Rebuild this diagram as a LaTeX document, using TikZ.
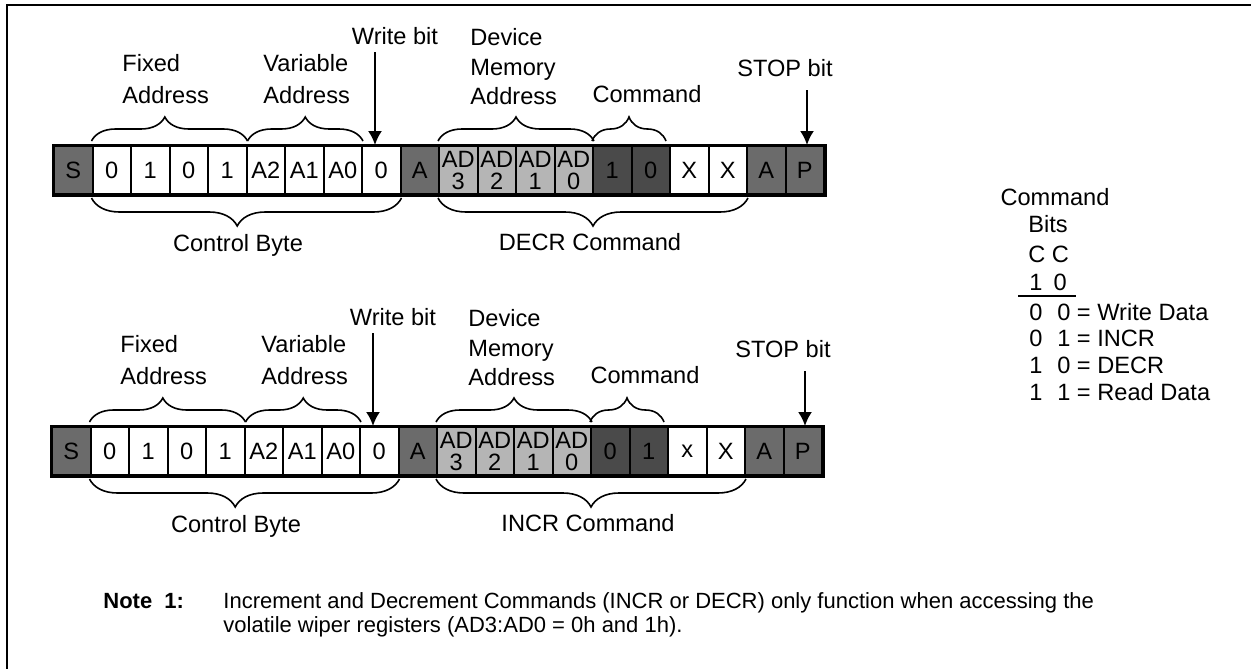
\documentclass[tikz,border=0pt]{standalone}
\usepackage{fontspec}
\setmainfont{Liberation Sans}
\usetikzlibrary{arrows.meta,decorations.pathreplacing,positioning}

\definecolor{framegray}{gray}{0.42}
\definecolor{addrgray}{gray}{0.71}
\definecolor{cmdgray}{gray}{0.29}

\begin{document}
\begin{tikzpicture}[>={Latex[length=7pt,width=7pt]}, x=0.5pt, y=-0.5pt,
        every node/.style={font=\fontsize{11.8}{14}\selectfont, inner sep=0pt},
        bitcell/.style={draw=black, line width=1pt, minimum width=19.25pt,
            minimum height=24pt, align=center, font=\fontsize{11.8}{11}\selectfont},
        overbrace/.style={decorate, decoration={brace, amplitude=12pt, raise=2pt}, line width=0.8pt},
        underbrace/.style={decorate, decoration={brace, mirror, amplitude=14pt, raise=1.5pt}, line width=0.8pt},
        pointer/.style={->, line width=1pt},
        fieldlabel/.style={anchor=west, align=left}]

    % Fixes the page size
    \useasboundingbox (0,0) rectangle (1251,669);

    % Draws the frame (top and left edges only)
    \draw[line width=1.25pt] (1251,5) -- (7,5) -- (7,669);

    % For each of the two command sequences
    \foreach \r/\dx/\dy/\ca/\cb/\xa/\cmd in {a/0/0/1/0/X/DECR, b/-2/281/0/1/x/INCR} {
        \begin{scope}[shift={(\dx,\dy)}]

            % Draws the bit cells of the sequence
            \foreach \lbl/\fl [count=\i] in {S/framegray, 0/white, 1/white, 0/white, 1/white,
                    A2/white, A1/white, A0/white, 0/white, A/framegray,
                    {AD\\3}/addrgray, {AD\\2}/addrgray, {AD\\1}/addrgray, {AD\\0}/addrgray,
                    \ca/cmdgray, \cb/cmdgray, \xa/white, X/white, A/framegray, P/framegray} {
                \node[bitcell, fill=\fl] (\r\i) at ({54+38.5*(\i-0.5)},170) {\lbl};
            }

            % Draws the thicker outline round the whole sequence
            \draw[line width=1.5pt] (\r1.north west) rectangle (\r20.south east);

            % Draws the braces above the cells and their labels
            \draw[overbrace, decoration={aspect=0.47}] (\r2.north west) -- (\r5.north east);
            \node[fieldlabel, font=\fontsize{11.8}{16}\selectfont] (fixed\r) at (122,79) {Fixed\\Address};
            \draw[overbrace] ([xshift=1pt]\r6.north west) -- (\r8.north east);
            \node[fieldlabel, font=\fontsize{11.8}{16}\selectfont] (variable\r) at (263,79) {Variable\\Address};
            \draw[overbrace] (\r11.north west) -- (\r14.north east);
            \node[fieldlabel, font=\fontsize{11.8}{14.75}\selectfont] (device\r) at (470,67) {Device\\Memory\\Address};
            \draw[overbrace] (\r15.north west) -- ([xshift=-2.5pt]\r16.north east);
            \node (command\r) at (647,94) {Command};

            % Draws the pointers to the write bit and the stop bit
            \node (write\r) at (395,36) {Write bit};
            \coordinate (writetop\r) at (375,52);
            \draw[pointer] (writetop\r) -- (writetop\r |- \r9.north);
            \node (stop\r) at (785,68) {STOP bit};
            \coordinate (stoptop\r) at (807,90);
            \draw[pointer] (stoptop\r) -- (stoptop\r |- \r20.north);

            % Draws the braces below the cells and their labels
            \draw[underbrace, decoration={aspect=0.47}] (\r2.south west) -- (\r9.south east);
            \node (control\r) at (238,245) {Control Byte};
            \draw[underbrace] (\r11.south west) -- (\r18.south east);
            \node (total\r) at (590,242) {\cmd\ Command};

        \end{scope}
    }

    % Draws the table of command bits
    \node (bitshead) at (1055,197) {Command};
    \node[anchor=west] (bitsname) at (1028,224) {Bits};
    \node[anchor=west] (bitsc) at (1028,254) {C C};
    \node[anchor=west] (bitsnum) at (1029,282) {1\hspace{5.5pt}0};
    \draw[line width=1pt] (1018,296) -- (1076,296);
    \foreach \bits/\cmdname [count=\k] in {{0\hspace{7.4pt}0}/Write Data, {0\hspace{7.4pt}1}/INCR,
            {1\hspace{7.4pt}0}/DECR, {1\hspace{7.4pt}1}/Read Data} {
        \node[anchor=west] (bitsrow\k) at (1029,{312+26.8*(\k-1)}) {\bits{} = \cmdname};
    }

    % Draws the note under the figure
    \node[anchor=base west, font=\fontsize{11}{12}\selectfont\bfseries] (notehead) at (103,608) {Note\ \ 1:};
    \node[anchor=base west, font=\fontsize{11}{12}\selectfont] (noteone) at (223,608)
        {Increment and Decrement Commands (INCR or DECR) only function when accessing the};
    \node[anchor=base west, font=\fontsize{11}{12}\selectfont] (notetwo) at (223,632)
        {volatile wiper registers (AD3:AD0 = 0h and 1h).};

\end{tikzpicture}
\end{document}
